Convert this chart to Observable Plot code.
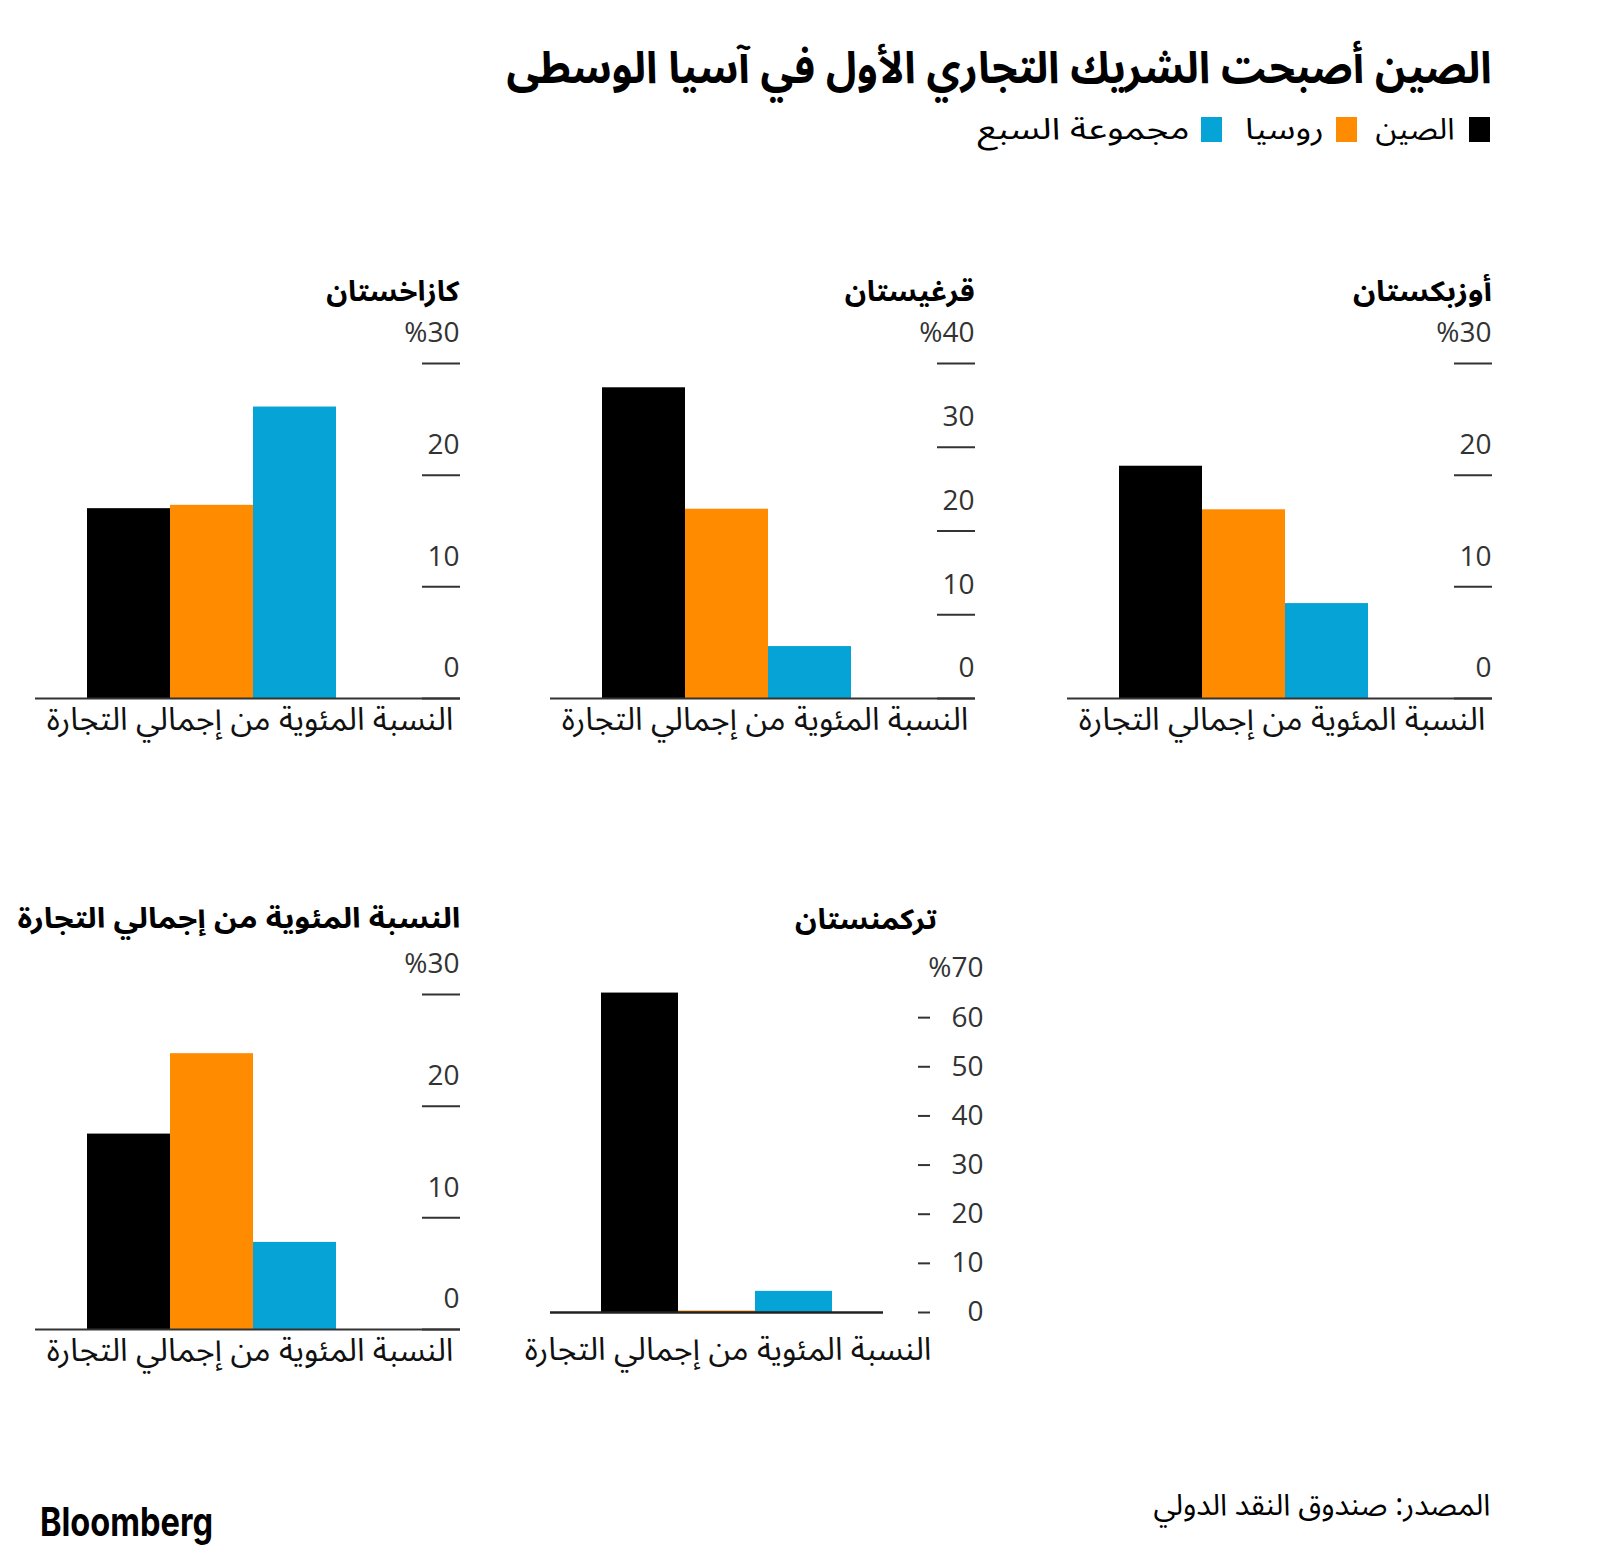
<!DOCTYPE html>
<html><head><meta charset="utf-8">
<script src="https://cdn.jsdelivr.net/npm/d3@7"></script>
<script src="https://cdn.jsdelivr.net/npm/@observablehq/plot@0.6"></script>
<style>
html,body{margin:0;padding:0;background:#fff;}
#page{position:relative;width:1600px;height:1563px;overflow:hidden;color:#000;}
.t{position:absolute;white-space:nowrap;line-height:1;}
.t span{display:inline-block;transform-origin:right center;}
.sq{position:absolute;}
.panel{position:absolute;}
</style></head>
<body><div id="page"></div>
<script>
// ---- data ----
const series = ["الصين", "روسيا", "مجموعة السبع"];
const colors = ["#000000", "#FF8C00", "#06A3D6"];
const title = "الصين أصبحت الشريك التجاري الأول في آسيا الوسطى";
const xLabel = "النسبة المئوية من إجمالي التجارة";
const source = "المصدر: صندوق النقد الدولي";

const kazakhstanName = "كازاخستان";
const kazakhstanValues = [17.0, 17.3, 26.1];
const kazakhstanTicks = [0, 10, 20, 30];

const kyrgyzstanName = "قرغيستان";
const kyrgyzstanValues = [37.1, 22.6, 6.2];
const kyrgyzstanTicks = [0, 10, 20, 30, 40];

const uzbekistanName = "أوزبكستان";
const uzbekistanValues = [20.8, 16.9, 8.5];
const uzbekistanTicks = [0, 10, 20, 30];

const tajikistanName = "النسبة المئوية من إجمالي التجارة";
const tajikistanValues = [17.5, 24.7, 7.8];
const tajikistanTicks = [0, 10, 20, 30];

const turkmenistanName = "تركمنستان";
const turkmenistanValues = [65.0, 0.3, 4.3];
const turkmenistanTickMarks = [0, 10, 20, 30, 40, 50, 60];
const turkmenistanTicks = [0, 10, 20, 30, 40, 50, 60, 70];

// ---- helpers ----
const AR = "'Noto Sans Arabic','Noto Naskh Arabic','DejaVu Sans',sans-serif";
const NUM = "'Open Sans','Noto Sans','DejaVu Sans',sans-serif";
const page = document.getElementById("page");

function txt(str, {right, left, cy, size, weight = 400, width, family = AR, color = "#000"}) {
  const d = document.createElement("div");
  d.className = "t";
  d.style.fontFamily = family;
  d.style.fontSize = size + "px";
  d.style.fontWeight = weight;
  d.style.color = color;
  d.style.height = size + "px";
  d.style.top = (cy - size / 2) + "px";
  const s = document.createElement("span");
  s.textContent = str;
  if (right != null) {
    d.style.right = (1600 - right) + "px";
    d.style.direction = "rtl";
    d.style.textAlign = "right";
  } else {
    d.style.left = left + "px";
    d.style.textAlign = "left";
    s.style.transformOrigin = "left center";
  }
  d.appendChild(s);
  page.appendChild(d);
  if (width) {
    const w = s.getBoundingClientRect().width;
    s.style.transform = `scaleX(${width / w})`;
    d.style.width = width + "px";
  }
  return d;
}

function mount(plot, left, top) {
  const div = document.createElement("div");
  div.className = "panel";
  div.style.left = left + "px";
  div.style.top = top + "px";
  div.appendChild(plot);
  page.appendChild(div);
}

// Bloomberg-style panel: frame spans from baseline start to tick end (425px)
function bloombergPanel(values, ticks, {left, top, marginLeft, height = 440}) {
  const data = series.map((s, i) => ({series: s, value: values[i]}));
  const width = 480, frameW = 425, tickLen = 38, yMax = d3.max(ticks);
  const plot = Plot.plot({
    width, height,
    marginLeft, marginRight: width - marginLeft - frameW,
    marginTop: 53, marginBottom: height - 53 - 335,
    style: {fontFamily: NUM, fontSize: "28px", color: "#333", background: "transparent", overflow: "visible"},
    x: {domain: series, paddingInner: 0, paddingOuter: 1.06, align: 0.294, axis: null},
    y: {domain: [0, yMax], axis: null},
    color: {domain: series, range: colors},
    marks: [
      Plot.barY(data, {x: "series", y: "value", fill: "series"}),
      Plot.ruleY([0], {stroke: "#333", strokeWidth: 2}),
      Plot.ruleY(ticks, {y: d => d, insetLeft: frameW - tickLen, stroke: "#333", strokeWidth: 2}),
      Plot.text(ticks, {y: d => d, text: d => d === yMax ? "%" + d : String(d), frameAnchor: "right",
        textAnchor: "end", dx: -1, dy: -30, fill: "#333", fontSize: 28, fontFamily: NUM}),
      Plot.text([xLabel], {text: d => d, frameAnchor: "bottom-right", textAnchor: "end", dx: -7, dy: 31,
        fontSize: 32, fontFamily: AR, fill: "#111"})
    ]
  });
  mount(plot, left, top);
}

// Turkmenistan panel: frame spans 550..983 (labels' right edge)
function turkmenPanel(values, {left, top}) {
  const data = series.map((s, i) => ({series: s, value: values[i]}));
  const width = 510, marginLeft = 50, frameW = 433;
  const plot = Plot.plot({
    width, height: 430,
    marginLeft, marginRight: width - marginLeft - frameW, marginTop: 18, marginBottom: 68,
    style: {fontFamily: NUM, fontSize: "28px", color: "#333", background: "transparent", overflow: "visible"},
    x: {domain: series, paddingInner: 0, paddingOuter: 1.286, align: 0.25, axis: null},
    y: {domain: [0, 70], axis: null},
    color: {domain: series, range: colors},
    marks: [
      Plot.barY(data, {x: "series", y: "value", fill: "series"}),
      Plot.ruleY([0], {insetRight: 100, stroke: "#222", strokeWidth: 2.5}),
      Plot.ruleY(turkmenistanTickMarks, {y: d => d, insetLeft: 368, insetRight: 53, stroke: "#333", strokeWidth: 2}),
      Plot.text(turkmenistanTicks, {y: d => d, text: d => d === 70 ? "%" + d : String(d), frameAnchor: "right",
        textAnchor: "end", fill: "#333", fontSize: 28, fontFamily: NUM}),
      Plot.text([xLabel], {text: d => d, frameAnchor: "bottom-right", textAnchor: "end", dx: -52, dy: 47,
        fontSize: 32, fontFamily: AR, fill: "#111"})
    ]
  });
  mount(plot, left, top);
}

// ---- header ----
txt(title, {right: 1492, cy: 69, size: 44, weight: 700, width: 985});

const legendItems = [
  {sqRight: 1490, textRight: 1454, textWidth: 79},
  {sqRight: 1357, textRight: 1324, textWidth: 79},
  {sqRight: 1222, textRight: 1189, textWidth: 212}
];
legendItems.forEach((it, i) => {
  const sq = document.createElement("div");
  sq.className = "sq";
  sq.style.left = (it.sqRight - 21) + "px";
  sq.style.top = "117px";
  sq.style.width = "21px";
  sq.style.height = "25px";
  sq.style.background = colors[i];
  page.appendChild(sq);
  txt(series[i], {right: it.textRight, cy: 130, size: 30, weight: 400, width: it.textWidth});
});

// ---- panels ----
txt(kazakhstanName, {right: 459, cy: 293, size: 28, weight: 700, width: 133});
bloombergPanel(kazakhstanValues, kazakhstanTicks, {left: 0, top: 310, marginLeft: 35});

txt(kyrgyzstanName, {right: 975, cy: 293, size: 28, weight: 700, width: 130});
bloombergPanel(kyrgyzstanValues, kyrgyzstanTicks, {left: 500, top: 310, marginLeft: 50});

txt(uzbekistanName, {right: 1492, cy: 293, size: 28, weight: 700, width: 139});
bloombergPanel(uzbekistanValues, uzbekistanTicks, {left: 1020, top: 310, marginLeft: 47});

txt(tajikistanName, {right: 460, cy: 920, size: 28, weight: 700, width: 443});
bloombergPanel(tajikistanValues, tajikistanTicks, {left: 0, top: 941, marginLeft: 35, height: 442});

txt(turkmenistanName, {right: 937, cy: 921, size: 28, weight: 700, width: 142});
turkmenPanel(turkmenistanValues, {left: 500, top: 950});

// ---- footer ----
txt(source, {right: 1490, cy: 1506, size: 30, weight: 400, width: 337});
txt("Bloomberg", {left: 40, cy: 1522, size: 40, weight: 700, width: 173, family: "'Inter','Lato','DejaVu Sans',sans-serif"});
</script>
</body></html>
